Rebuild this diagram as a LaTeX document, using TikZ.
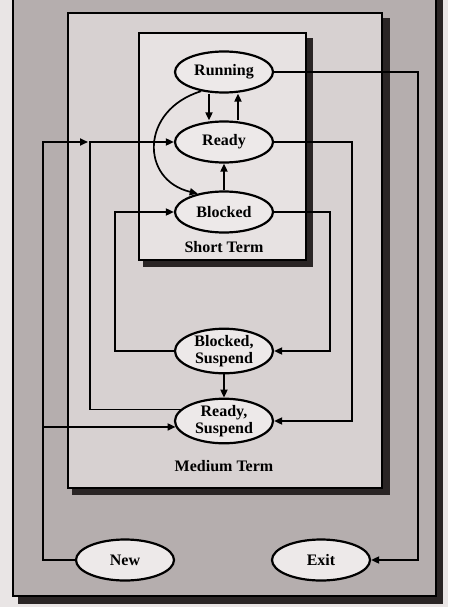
\documentclass[tikz,border=0pt]{standalone}
\usepackage{fontspec}
\setmainfont{Liberation Serif}
\usetikzlibrary{shapes.geometric,arrows.meta}
\definecolor{bgc}{HTML}{E9E5E5}
\definecolor{ltc}{HTML}{B5AEAE}
\definecolor{mtc}{HTML}{D7D1D1}
\definecolor{stc}{HTML}{E7E2E2}
\definecolor{elc}{HTML}{EDE9E9}
\definecolor{shc}{HTML}{2A2525}
\begin{document}
\begin{tikzpicture}[x=1pt,y=-1pt,
        st/.style={ellipse,draw=black,line width=2.2pt,fill=elc,minimum width=98pt,minimum height=41pt,inner sep=0pt,align=center,font=\fontsize{16}{17}\selectfont\bfseries},
        lbl/.style={font=\fontsize{16}{17}\selectfont\bfseries},
        box/.style={draw=black,line width=1.8pt},
        lnk/.style={line width=1.7pt,-{Triangle[length=8pt,width=7pt]}}]
                \useasboundingbox (0,0) rectangle (448,607);
                \fill[bgc] (0,0) rectangle (448,607);

                \fill[shc] (18,-10) rectangle (443,604);
                \fill[ltc,box] (13,-10) rectangle (436,596);
                \fill[shc] (72,18) rectangle (390,495);
                \fill[mtc,box] (68,13) rectangle (382,488);
                \fill[shc] (143,38) rectangle (313,267);
                \fill[stc,box] (139,33) rectangle (306,260);

                \node[lbl] (stl) at (224,247) {Short Term};
                \node[lbl] (mtl) at (224,466) {Medium Term};

                \node[st] (run) at (224,72) {Running};
                \node[st] (rdy) at (224,142) {Ready};
                \node[st] (blk) at (224,212) {Blocked};
                \node[st] (bs) at (224,351) {Blocked,\\Suspend};
                \node[st] (rs) at (224,421) {Ready,\\Suspend};
                \node[st] (new) at (125,560) {New};
                \node[st] (ext) at (321,560) {Exit};

                \coordinate (xe) at (418,0);
                \coordinate (xr) at (352,0);
                \coordinate (xb) at (330,0);
                \coordinate (xl) at (115,0);
                \coordinate (xs) at (90,0);
                \coordinate (jn) at (88,0);
                \coordinate (xn) at (43,0);

                \draw[lnk] ([xshift=-15pt]run.south) -- ([xshift=-15pt]rdy.north);
                \draw[lnk] ([xshift=14pt]rdy.north) -- ([xshift=14pt]run.south);
                \draw[lnk] (blk.north) -- (rdy.south);
                \draw[lnk] (run.220) .. controls (140,110) and (140,180) .. (blk.145);

                \draw[lnk] (run.east) -- (run -| xe) |- (ext.east);
                \draw[lnk] (rdy.east) -- (rdy -| xr) |- (rs.east);
                \draw[lnk] (blk.east) -- (blk -| xb) |- (bs.east);
                \draw[lnk] (bs.west) -- (bs -| xl) |- (blk.west);
                \draw[lnk] (bs.south) -- (rs.north);
                \draw[lnk] (rs.165) -- (rs.165 -| xs) |- (rdy.west);

                \draw[lnk] (new.west) -- (new -| xn) |- (jn |- rdy);
                \draw[lnk] (rs.187 -| xn) -- (rs.187);
            \end{tikzpicture}
\end{document}
